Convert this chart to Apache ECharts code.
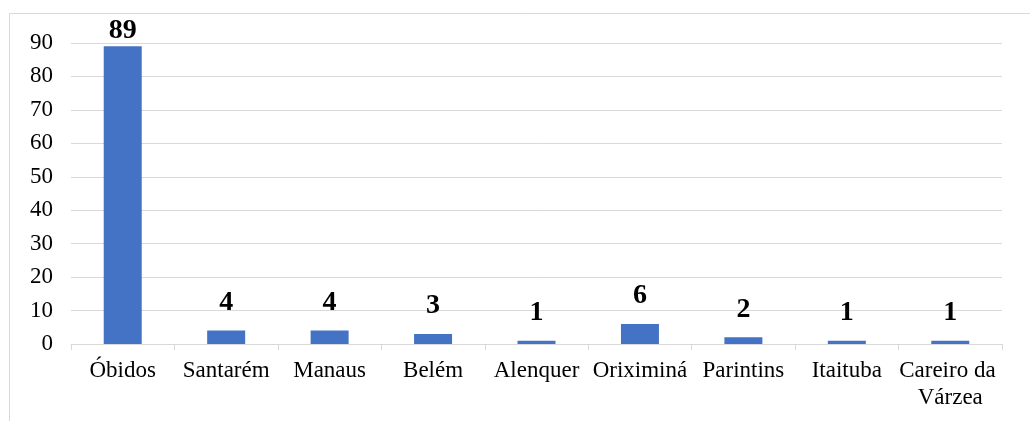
<!DOCTYPE html>
<html>
<head>
<meta charset="utf-8">
<script src="https://cdn.jsdelivr.net/npm/echarts@6/dist/echarts.min.js"></script>
<style>
  html, body { margin: 0; padding: 0; background: #fff; }
  #chart { width: 1030px; height: 421px; }
</style>
</head>
<body>
<div id="chart"></div>
<script>
// Municípios e número de ocorrências
const categories = ['Óbidos', 'Santarém', 'Manaus', 'Belém', 'Alenquer', 'Oriximiná', 'Parintins', 'Itaituba', 'Careiro da Várzea'];
const values = [89, 4, 4, 3, 1, 6, 2, 1, 1];
const yTicks = { min: 0, max: 90, interval: 10 };

const serif = '"Liberation Serif", "Times New Roman", serif';
const gridColor = '#d9d9d9';

const chart = echarts.init(document.getElementById('chart'));

const seriesData = values.map((v, i) => {
  const item = { value: v };
  if (i === 0) item.label = { distance: 2 };
  return item;
});

chart.setOption({
  animation: false,
  backgroundColor: '#fff',
  graphic: [{
    type: 'rect',
    shape: { x: 9.5, y: 13.5, width: 1200, height: 600 },
    style: { fill: 'none', stroke: gridColor, lineWidth: 1 },
    silent: true
  }],
  grid: { left: 71, right: 28, top: 43, bottom: 77 },
  xAxis: {
    type: 'category',
    data: categories,
    axisLine: { show: true, lineStyle: { color: gridColor, width: 1 } },
    axisTick: { show: true, length: 6, lineStyle: { color: gridColor } },
    axisLabel: {
      interval: 0,
      margin: 13,
      color: '#000',
      fontFamily: serif,
      fontSize: 23,
      lineHeight: 27,
      width: 114,
      overflow: 'break'
    }
  },
  yAxis: {
    type: 'value',
    min: yTicks.min,
    max: yTicks.max,
    interval: yTicks.interval,
    axisLine: { show: false },
    axisTick: { show: false },
    splitLine: { lineStyle: { color: gridColor, width: 1 } },
    axisLabel: {
      margin: 18,
      color: '#000',
      fontFamily: serif,
      fontSize: 23
    }
  },
  series: [{
    type: 'bar',
    data: seriesData,
    barWidth: 38,
    itemStyle: { color: '#4472C4' },
    label: {
      show: true,
      position: 'top',
      distance: 14,
      color: '#000',
      fontFamily: serif,
      fontWeight: 'bold',
      fontSize: 28
    }
  }]
});
</script>
</body>
</html>
